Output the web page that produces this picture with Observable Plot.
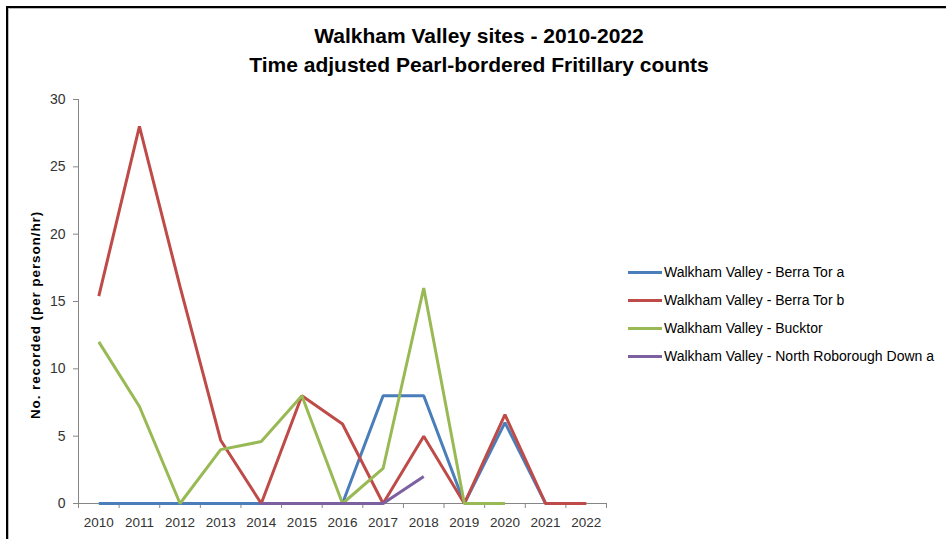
<!DOCTYPE html>
<html>
<head>
<meta charset="utf-8">
<script src="https://cdn.jsdelivr.net/npm/d3@7"></script>
<script src="https://cdn.jsdelivr.net/npm/@observablehq/plot@0.6"></script>
<style>
  html, body { margin: 0; padding: 0; background: #fff; }
  #wrap { position: relative; width: 946px; height: 539px; overflow: hidden; font-family: "Liberation Sans", Arial, sans-serif; }
  #frame { position: absolute; left: 6px; top: 6px; width: 960px; height: 560px; border-left: 2px solid #000; border-top: 2px solid #000; box-shadow: inset 1px 1px 0 #bbb; pointer-events: none; }
  #title { position: absolute; left: 0; width: 958px; top: 21px; text-align: center; font-weight: bold; font-size: 21px; line-height: 29px; color: #000; }
  #ylabel { position: absolute; left: 35px; top: 315px; transform: translate(-50%, -50%) rotate(-90deg); white-space: nowrap; font-weight: bold; font-size: 13.5px; letter-spacing: 0.9px; color: #000; }
  #legend { position: absolute; left: 628px; top: 258px; font-size: 14px; color: #000; }
  .item { height: 28px; display: flex; align-items: center; }
  .sw { width: 34px; height: 3px; margin-right: 2px; }
  #chart { position: absolute; left: 0; top: 0; }
</style>
</head>
<body>
<div id="wrap">
  <div id="chart"></div>
  <div id="title">Walkham Valley sites - 2010-2022<br>Time adjusted Pearl-bordered Fritillary counts</div>
  <div id="ylabel">No. recorded (per person/hr)</div>
  <div id="legend"></div>
  <div id="frame"></div>
</div>
<script>
const years = [2010, 2011, 2012, 2013, 2014, 2015, 2016, 2017, 2018, 2019, 2020, 2021, 2022];
const seriesNames = [
  "Walkham Valley - Berra Tor a",
  "Walkham Valley - Berra Tor b",
  "Walkham Valley - Bucktor",
  "Walkham Valley - North Roborough Down a"
];
const berraTorA = [0, 0, 0, 0, 0, 0, 0, 8, 8, 0, 6, 0, 0];
const berraTorB = [15.4, 28, 16.1, 4.7, 0, 8, 5.9, 0, 5, 0, 6.6, 0, 0];
const bucktor = [12, 7.2, 0, 4, 4.6, 8, 0, 2.6, 16, 0, 0, null, null];
const northRoborough = [null, null, null, null, 0, 0, 0, 0, 2, null, null, null, null];
const colors = ["#4A7EBB", "#BE4B48", "#98B954", "#7D60A0"];
const yTicks = [0, 5, 10, 15, 20, 25, 30];

const allValues = [berraTorA, berraTorB, bucktor, northRoborough];
const table = [];
allValues.forEach((vals, i) => {
  vals.forEach((v, j) => {
    table.push({series: seriesNames[i], year: years[j], value: v});
  });
});
const bounds = [...years.map(y => y - 0.5), years[years.length - 1] + 0.5];

const chart = Plot.plot({
  width: 946,
  height: 539,
  marginLeft: 78,
  marginRight: 340,
  marginTop: 99,
  marginBottom: 36,
  x: {domain: [bounds[0], bounds[bounds.length - 1]]},
  y: {domain: [0, 30]},
  color: {domain: seriesNames, range: colors},
  style: {fontFamily: "'Liberation Sans', Arial, sans-serif", fontSize: "13px", color: "#333", background: "transparent"},
  marks: [
    Plot.axisY(yTicks, {tickSize: 5, stroke: "#868686", fill: "#333", label: null, tickPadding: 8, fontSize: 14}),
    Plot.axisX(years, {tickSize: 0, tickFormat: d => String(d), label: null, tickPadding: 14, fill: "#333", fontSize: 13.5}),
    Plot.axisX(bounds, {tickSize: 5, tickFormat: () => "", label: null, stroke: "#868686"}),
    Plot.ruleY([0], {stroke: "#868686"}),
    Plot.ruleX([bounds[0]], {stroke: "#868686"}),
    Plot.line(table, {x: "year", y: "value", z: "series", stroke: "series", strokeWidth: 3, strokeLinejoin: "miter", strokeLinecap: "butt"})
  ]
});
document.getElementById("chart").appendChild(chart);

const legend = document.getElementById("legend");
seriesNames.forEach((name, i) => {
  const item = document.createElement("div");
  item.className = "item";
  const sw = document.createElement("div");
  sw.className = "sw";
  sw.style.background = colors[i];
  const t = document.createElement("span");
  t.textContent = name;
  item.appendChild(sw);
  item.appendChild(t);
  legend.appendChild(item);
});
</script>
</body>
</html>
